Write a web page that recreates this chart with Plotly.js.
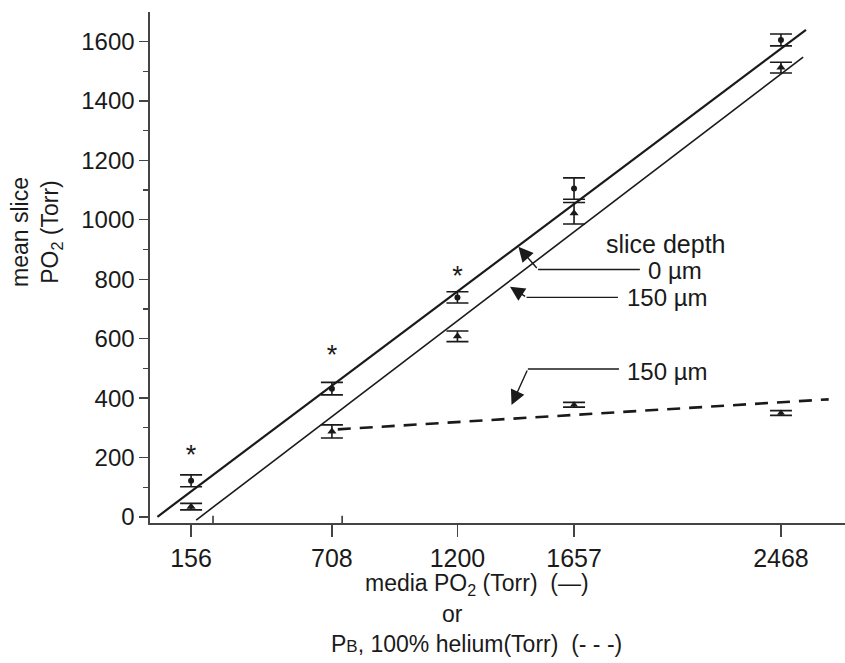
<!DOCTYPE html>
<html>
<head>
<meta charset="utf-8">
<script src="https://cdn.plot.ly/plotly-3.0.1.min.js"></script>
<style>html,body{margin:0;padding:0;background:#fff;}#chart{width:845px;height:663px;}</style>
</head>
<body>
<div id="chart"></div>
<script>
// ---- data ----
var mediaPO2 = [156, 708, 1200, 1657, 2468];
var tickLabels = ['156', '708', '1200', '1657', '2468'];
var depth0Mean = [122, 432, 739, 1105, 1605];
var depth0Err = [20, 21, 19, 36, 20];
var depth150Mean = [35, 288, 608, 1022, 1512];
var depth150Err = [11, 22, 18, 36, 18];
var heliumPB = [1657, 2468];
var heliumMean = [378, 350];
var heliumErr = [8, 8];
var asteriskX = [156, 708, 1200];
var asteriskY = [200, 537, 804];
var fit0X = [24, 2566];
var fit0Y = [1, 1639];
var fit150X = [176, 2555];
var fit150Y = [-10, 1547];
var fitHeX = [731, 2655];
var fitHeY = [295, 396];

var FONT = 'Liberation Sans, Arial, Helvetica, sans-serif';
var INK = '#1a1a1a';

var traces = [
  {x: fit0X, y: fit0Y, mode: 'lines', line: {color: INK, width: 2.2}, hoverinfo: 'skip'},
  {x: fit150X, y: fit150Y, mode: 'lines', line: {color: INK, width: 1.6}, hoverinfo: 'skip'},
  {x: fitHeX, y: fitHeY, mode: 'lines', line: {color: INK, width: 2.6, dash: '13px,9px'}, hoverinfo: 'skip'},
  {x: mediaPO2, y: depth0Mean, mode: 'markers', marker: {symbol: 'circle', size: 6, color: INK},
   error_y: {type: 'data', array: depth0Err, visible: true, color: INK, thickness: 1.6, width: 11}},
  {x: mediaPO2, y: depth150Mean, mode: 'markers', marker: {symbol: 'triangle-up', size: 8, color: INK},
   error_y: {type: 'data', array: depth150Err, visible: true, color: INK, thickness: 1.6, width: 11}},
  {x: heliumPB, y: heliumMean, mode: 'markers', marker: {symbol: 'triangle-up', size: 7, color: INK},
   error_y: {type: 'data', array: heliumErr, visible: true, color: INK, thickness: 1.8, width: 11}},
  {x: asteriskX, y: asteriskY, mode: 'text', text: asteriskX.map(function(){return '*';}),
   textfont: {family: FONT, size: 27, color: INK}, hoverinfo: 'skip'}
];

function leader(bx, by, ex) {
  return {type: 'line', xref: 'x', yref: 'y', x0: bx, y0: by, x1: ex, y1: by, line: {color: INK, width: 1.4}};
}
var shapes = [
  leader(1516, 833, 1915),
  leader(1471, 739, 1829),
  leader(1476, 498, 1833),
  {type: 'line', xref: 'x', yref: 'paper', x0: 242, x1: 242, y0: 0, y1: 0.014, line: {color: INK, width: 1.4}},
  {type: 'line', xref: 'x', yref: 'paper', x0: 748, x1: 748, y0: 0, y1: 0.014, line: {color: INK, width: 1.4}}
];

function arrow(hx, hy, bx, by) {
  return {x: hx, y: hy, ax: bx, ay: by, xref: 'x', yref: 'y', axref: 'x', ayref: 'y', text: '',
    showarrow: true, arrowhead: 2, arrowsize: 2.1, arrowwidth: 1.4, arrowcolor: INK, standoff: 0};
}
function label(txt, x, y, anchor, size) {
  return {x: x, y: y, xref: 'x', yref: 'y', text: txt, showarrow: false, xanchor: anchor || 'left', yanchor: 'middle',
    font: {family: FONT, size: size || 24, color: INK}};
}
function ptext(txt, x, y) {
  return {x: x, y: y, xref: 'paper', yref: 'paper', text: txt, showarrow: false, xanchor: 'center', yanchor: 'middle',
    font: {family: FONT, size: 23, color: INK}};
}

var annotations = [
  arrow(1439, 909, 1516, 833),
  arrow(1406, 775, 1471, 739),
  arrow(1412, 377, 1476, 498),
  label('slice depth', 2262, 919, 'right', 25),
  label('0 µm', 1940, 831),
  label('150 µm', 1855, 737),
  label('150 µm', 1855, 489),
  ptext('media PO<sub>2</sub> (Torr)  (—)', 0.47, -0.121),
  ptext('or', 0.435, -0.178),
  ptext('P<span style="font-size:17px">B</span>, 100% helium(Torr)  (- - -)', 0.47, -0.236),
  {x: 36, y: 232, xref: 'paper', yref: 'paper', text: 'mean slice<br>PO<sub>2</sub> (Torr)',
   showarrow: false, textangle: -90, xanchor: 'center', yanchor: 'middle',
   font: {family: FONT, size: 23, color: INK}}
];
// convert pixel placement of the y title into paper coordinates
var yt = annotations[annotations.length - 1];
yt.x = (yt.x - 150) / 695;
yt.y = (523 - yt.y) / 511;

var layout = {
  width: 845, height: 663,
  margin: {l: 150, r: 0, t: 12, b: 140, pad: 0},
  paper_bgcolor: '#fff', plot_bgcolor: '#fff',
  showlegend: false,
  font: {family: FONT, size: 22, color: INK},
  xaxis: {
    range: [-5, 2719], tickvals: mediaPO2, ticktext: tickLabels,
    ticks: 'outside', ticklen: 12, tickwidth: 1.4, tickcolor: '#444',
    showline: true, linecolor: '#444', linewidth: 1.6, showgrid: false, zeroline: false,
    tickfont: {family: FONT, size: 25, color: INK}
  },
  yaxis: {
    range: [-20, 1699], tickvals: [0, 200, 400, 600, 800, 1000, 1200, 1400, 1600],
    ticks: 'outside', ticklen: 9, tickwidth: 1.4, tickcolor: '#444',
    minor: {dtick: 100, tick0: 0, ticks: 'outside', ticklen: 5, tickwidth: 1.2, tickcolor: '#444'},
    showline: true, linecolor: '#444', linewidth: 1.6, showgrid: false, zeroline: false,
    tickfont: {family: FONT, size: 24, color: INK}
  },
  shapes: shapes,
  annotations: annotations
};

Plotly.newPlot('chart', traces, layout, {displayModeBar: false, staticPlot: true});
</script>
</body>
</html>
